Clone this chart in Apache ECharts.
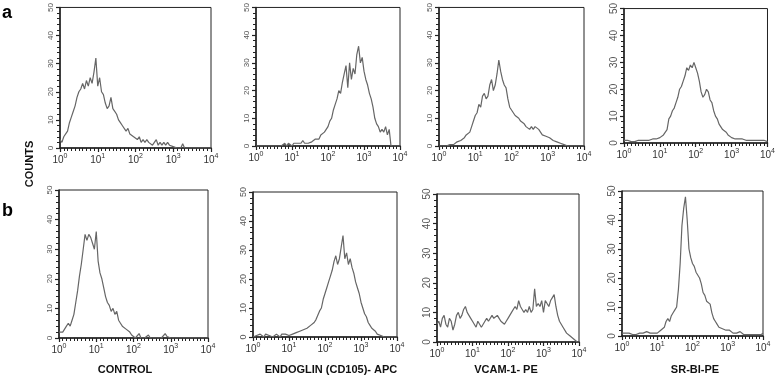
<!DOCTYPE html>
<html>
<head>
<meta charset="utf-8">
<script src="https://cdn.jsdelivr.net/npm/echarts@6/dist/echarts.min.js"></script>
<style>
  html, body { margin: 0; padding: 0; background: #fff; }
  #main { width: 778px; height: 380px; }
</style>
</head>
<body>
<div id="main"></div>
<script>
// x runs over 4 log decades (10^0 .. 10^4), one count every 0.05 decade
var decades = [0, 1, 2, 3, 4];
var countTicks = [0, 10, 20, 30, 40, 50];
var step = 0.05;

// row a
var controlA = [3,2,4,5,6,9,11,13,15,18,20,21,23,21,24,22,25,23,27,32,
  22,25,20,19,16,14,15,18,14,13,12,10,9,8,8,6,7,5,5,4,
  4,3,4,2,3,2,3,2,2,1,2,3,1,2,1,2,1,2,1,1,
  0.5,1,0,0.5,0,1.5,0,0,0,0,0,0,0,0,0,0,0,0,0,0,0];
var endoglinA = [0,0,0,0,0,0,0,0,0,0,0,0,0,0,0,0.5,1,0,1,0.5,
  0,1,0.5,1,1.5,1,2,1,1.5,1,0.5,1.5,2,2.5,3,2.5,4,3.5,5,6,
  7,9,10,13,15,17,20,19,23,26,29,21,30,24,28,26,33,36,30,32,
  27,24,22,19,17,14,10,8,7,5,6,5,7,4,6,0,0,0,0,0,0];
var vcamA = [0,0,0,0,0,0,0.5,1,0.5,1,1.5,1,2,2.5,3,4,4.5,5,7,9,
  11,12,15,14,18,19,17,18,22,24,20,22,26,31,27,24,22,21,17,14,
  13,12,11,11,10,9,9,8,7,7,6,7,6,7,7,6,5,4,4.5,3.5,
  3,3,2.5,2,2,1.5,1,1,0.5,0.5,0,0,0,0,0,0,0,0,0,0,0];
var srbiA = [1,0.5,1,1.5,0.5,1,0.5,1,1,0.5,1,1.5,1,0.5,1,1,1.5,1,1.5,2,
  2,2.5,3,3.5,5,9,10,12,13,15,17,20,21,23,25,28,27,29,28,30,
  28,26,23,19,17,18,20,19,16,15,12,10,9,7,6,5,4.5,4,3,2.5,
  2,2,1.5,2,1.5,1,1.5,1,1,1.5,1,0.5,1,1.5,1,0.5,1,1.5,1,1,0.5];

// row b
var controlB = [2,2.5,2,3,4,5,4,6,8,12,16,21,25,30,35,33,35,34,32,30,
  36,26,22,20,17,14,12,11,9,10,8,9,6,5,4,4,3,3.5,2,1,
  0.5,0,0.5,1.5,0,0.5,0,0.5,1,0,0,0,0,0,0,0,0,1.5,0.5,0,
  0,0,0,0,0,0,0,0,0,0,0,0,0,0,0,0,0,0,0,0,0];
var endoglinB = [0,0,0.5,0,1,0.5,0,1,0.5,0.5,1,0,0.5,1,0.5,0,1,0.5,1,0.5,
  0.5,1,1,1.5,1.5,2,2,2.5,2.5,3,3,3.5,4,4.5,5,6,6,9,10,13,
  15,17,19,21,23,26,28,25,27,31,35,27,29,25,27,24,22,19,17,15,
  12,10,8,7,5,4,3,2.5,2,1,1,0.5,0.5,0,0.5,0,0,0,0,0,0];
var vcamB = [6,7,5,8,9,6,5,8,7,4,6,9,10,8,9,11,12,10,9,8,
  7,6,5,7,7,5,6,7,8,7,7,9,8,8,9,8,7,7,6,7,
  8,9,10,10,12,11,14,12,11,10,11,10,12,10,11,18,12,13,12,14,
  10,14,13,12,14,15,16,12,9,7,6,5,5,3,2.5,2,2,1,0.5,0,0];
var srbiB = [1,0.5,1,0.5,1,1.5,0.5,1,0.5,1,1,0.5,1,1,1.5,1,1,1.5,1,1.5,
  1,1.5,2,2.5,3,5,6,5,7,8,9,10,16,25,38,44,48,40,30,27,
  25,24,22,22,20,18,15,14,12,12,11,8,6,5,4,3,3,2.5,2,2,
  1.5,2,1.5,1,1.5,1,1,1.5,1,0.5,1,0.5,1,0.5,1,0.5,1,0.5,1,0.5,1];

var panels = [
  { data: controlA,  box: [60, 7, 151, 141],  yFont: 8 },
  { data: endoglinA, box: [256, 7, 144, 139], yFont: 8 },
  { data: vcamA,     box: [439, 7, 145, 139], yFont: 8 },
  { data: srbiA,     box: [624, 5, 144, 138], yFont: 10 },
  { data: controlB,  box: [59, 190, 149, 148], yFont: 8 },
  { data: endoglinB, box: [253, 192, 144, 145], yFont: 9 },
  { data: vcamB,     box: [437, 194, 142, 148], yFont: 10 },
  { data: srbiB,     box: [622, 191, 141, 145], yFont: 10 }
];

var xMin = decades[0], xMax = decades[decades.length - 1];
var yMin = countTicks[0], yMax = countTicks[countTicks.length - 1];
var grids = [], xAxes = [], yAxes = [], xMinor = [], yMinor = [], series = [];
panels.forEach(function (p, i) {
  grids.push({
    left: p.box[0], top: p.box[1], width: p.box[2], height: p.box[3],
    show: true, borderColor: '#222', borderWidth: 1, containLabel: false
  });
  xAxes.push({
    gridIndex: i, type: 'value', min: xMin, max: xMax, interval: 1,
    axisLine: { onZero: false, lineStyle: { color: '#222', width: 1.5 } },
    axisTick: { length: 4, lineStyle: { color: '#222', width: 1.2 } },
    splitLine: { show: false },
    axisLabel: {
      margin: 5, color: '#333', fontFamily: 'Arial, Liberation Sans, sans-serif',
      formatter: function (v) { return '{b|10}{s|' + v + '}'; },
      rich: {
        b: { fontSize: 10, color: '#333' },
        s: { fontSize: 7, color: '#333', padding: [0, 0, 7, 0] }
      }
    }
  });
  yAxes.push({
    gridIndex: i, type: 'value', min: yMin, max: yMax, interval: 10,
    axisLine: { show: true, lineStyle: { color: '#222', width: 1.5 } },
    axisTick: { show: true, length: 4, lineStyle: { color: '#222', width: 1.2 } },
    splitLine: { show: false },
    axisLabel: {
      rotate: 90, margin: 5, color: '#555', fontSize: p.yFont,
      fontFamily: 'Arial, Liberation Sans, sans-serif'
    }
  });
  // dense small ticks drawn by a second, label-less axis on the same grid
  xMinor.push({
    gridIndex: i, type: 'value', min: xMin, max: xMax, interval: 0.1, position: 'bottom',
    axisLine: { show: false }, axisLabel: { show: false }, splitLine: { show: false },
    axisTick: { show: true, length: 3, lineStyle: { color: '#222', width: 1 } }
  });
  yMinor.push({
    gridIndex: i, type: 'value', min: yMin, max: yMax, interval: 2, position: 'left',
    axisLine: { show: false }, axisLabel: { show: false }, splitLine: { show: false },
    axisTick: { show: true, length: 3, lineStyle: { color: '#222', width: 1 } }
  });
  series.push({
    type: 'line', xAxisIndex: i, yAxisIndex: i, symbol: 'none', silent: true,
    lineStyle: { color: '#666', width: 1.2 },
    data: p.data.map(function (v, k) { return [k * step, v]; })
  });
});

var titleFont = 'Arial, Liberation Sans, sans-serif';
var bottomLabels = [
  { text: 'CONTROL', x: 125 },
  { text: 'ENDOGLIN (CD105)- APC', x: 331 },
  { text: 'VCAM-1- PE', x: 506 },
  { text: 'SR-BI-PE', x: 695 }
];
var graphics = [
  { type: 'text', left: 2, top: 4, style: { text: 'a', font: 'bold 18px ' + titleFont, fill: '#000' } },
  { type: 'text', left: 2, top: 202, style: { text: 'b', font: 'bold 18px ' + titleFont, fill: '#000' } },
  { type: 'text', x: 30, y: 164, rotation: Math.PI / 2,
    style: { text: 'COUNTS', font: 'bold 11px ' + titleFont, fill: '#111', align: 'center', verticalAlign: 'middle' } }
];
bottomLabels.forEach(function (b) {
  graphics.push({ type: 'text', x: b.x, y: 370,
    style: { text: b.text, font: 'bold 11px ' + titleFont, fill: '#111', align: 'center', verticalAlign: 'middle' } });
});

var myChart = echarts.init(document.getElementById('main'), null, { renderer: 'canvas' });
myChart.setOption({
  animation: false,
  backgroundColor: '#fff',
  grid: grids,
  xAxis: xAxes.concat(xMinor),
  yAxis: yAxes.concat(yMinor),
  series: series,
  graphic: graphics
});
</script>
</body>
</html>
